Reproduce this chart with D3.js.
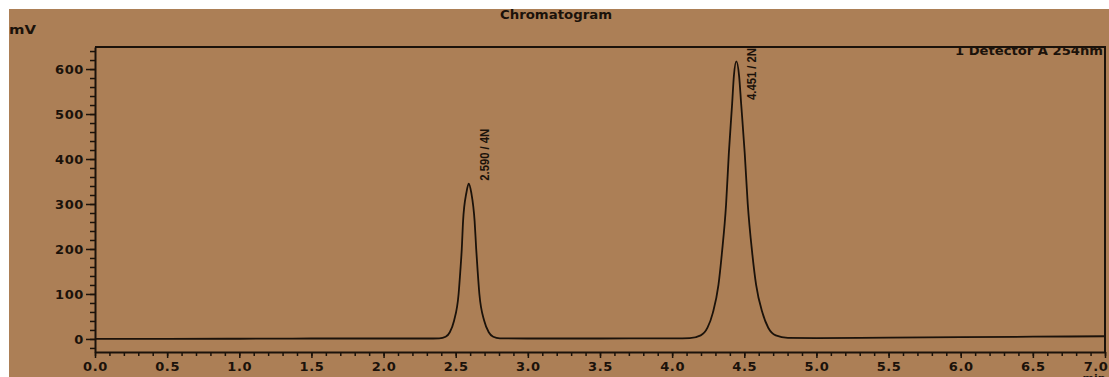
<!DOCTYPE html>
<html>
<head>
<meta charset="utf-8">
<script src="https://cdn.jsdelivr.net/npm/d3@7"></script>
<style>
  body { margin: 0; background: #fff; }
  svg { display: block; }
  .tick text { font-family: "DejaVu Sans", sans-serif; font-weight: bold; font-size: 13px; letter-spacing: 0.6px; fill: #1b120a; }
  .tick line, .domain { stroke: #1b120a; }
</style>
</head>
<body>
<svg width="1109" height="377"></svg>
<script>
// retention time (min) and detector signal (mV)
var times = [0, 0.5, 1.0, 1.5, 2.0, 2.3,
             2.386, 2.430, 2.459, 2.488, 2.520, 2.532, 2.542, 2.551, 2.574, 2.59, 2.608, 2.631, 2.642, 2.652, 2.664, 2.698, 2.729, 2.76, 2.806,
             3.0, 3.5, 4.0,
             4.122, 4.198, 4.245, 4.282, 4.321, 4.345, 4.374, 4.393, 4.416, 4.428, 4.445, 4.464, 4.478, 4.503, 4.524, 4.555, 4.582, 4.626, 4.666, 4.718, 4.802,
             5.0, 5.5, 6.0, 6.5, 7.0];
var signal = [0, 0, 0.5, 1, 1, 1,
              1.5, 5, 15, 40, 100, 151, 200, 262, 325, 345, 325, 262, 200, 151, 100, 40, 15, 5, 1.5,
              1, 1, 1.5,
              2, 8, 25, 58, 120, 191, 300, 413, 524, 585, 617, 585, 524, 413, 300, 191, 120, 58, 25, 8, 2.5,
              2, 3, 4, 5, 6];

// peaks: retention time, height, printed label
var peakTimes = [2.59, 4.445];
var peakHeights = [345, 617];
var peakLabels = ["2.590 / 4N", "4.451 / 2N"];

var xTicks = [0, 0.5, 1.0, 1.5, 2.0, 2.5, 3.0, 3.5, 4.0, 4.5, 5.0, 5.5, 6.0, 6.5, 7.0];
var xTickLabels = ["0.0", "0.5", "1.0", "1.5", "2.0", "2.5", "3.0", "3.5", "4.0", "4.5", "5.0", "5.5", "6.0", "6.5", "7.0"];
var yTicks = [0, 100, 200, 300, 400, 500, 600];
var yTickLabels = ["0", "100", "200", "300", "400", "500", "600"];

var ink = "#1b120a";
var svg = d3.select("svg");

// brown paper, leaving the white scan strip at top and left
svg.append("rect").attr("x", 9).attr("y", 9).attr("width", 1100).attr("height", 368).attr("fill", "#ac7f56");

var x = d3.scaleLinear().domain([0, 7.0]).range([95, 1105]);
var y = d3.scaleLinear().domain([-29, 649]).range([352, 47]);

// frame top and right
svg.append("path")
   .attr("d", "M" + x(0) + "," + y(649) + "H" + x(7) + "V" + y(-29))
   .attr("fill", "none").attr("stroke", ink).attr("stroke-width", 2);

// y axis: minor every 20, major every 100
svg.append("g")
   .attr("transform", "translate(" + x(0) + ",0)")
   .call(d3.axisLeft(y).tickValues(d3.range(-20, 649, 20)).tickSize(5).tickSizeOuter(0).tickFormat(""))
   .call(function(g) { g.selectAll("line").attr("stroke-width", 1.5); g.select(".domain").attr("stroke-width", 2); });
svg.append("g")
   .attr("transform", "translate(" + x(0) + ",0)")
   .call(d3.axisLeft(y).tickValues(yTicks).tickSize(9).tickPadding(2).tickSizeOuter(0)
          .tickFormat(function(d, i) { return yTickLabels[i]; }))
   .call(function(g) { g.select(".domain").remove(); g.selectAll("line").attr("stroke-width", 1.5); });

// x axis: minor every 0.1, major every 0.5
svg.append("g")
   .attr("transform", "translate(0," + y(-29) + ")")
   .call(d3.axisBottom(x).tickValues(d3.range(0, 7.01, 0.1)).tickSize(4).tickSizeOuter(0).tickFormat(""))
   .call(function(g) { g.selectAll("line").attr("stroke-width", 1.5); g.select(".domain").attr("stroke-width", 2); });
var xAxis = svg.append("g")
   .attr("transform", "translate(0," + y(-29) + ")")
   .call(d3.axisBottom(x).tickValues(xTicks).tickSize(6).tickPadding(4).tickSizeOuter(0)
          .tickFormat(function(d, i) { return xTickLabels[i]; }))
   .call(function(g) { g.select(".domain").remove(); g.selectAll("line").attr("stroke-width", 1.5); });
// last label sits against the edge of the scan
xAxis.selectAll(".tick text").filter(function(d) { return d === 7.0; })
     .attr("text-anchor", "end").attr("dx", 3);

// the trace
var pts = times.map(function(t, i) { return [t, signal[i]]; });
svg.append("path")
   .datum(pts)
   .attr("fill", "none")
   .attr("stroke", ink)
   .attr("stroke-width", 1.8)
   .attr("d", d3.line().x(function(d) { return x(d[0]); }).y(function(d) { return y(d[1]); }).curve(d3.curveMonotoneX));

// peak labels, written upward beside each apex
peakTimes.forEach(function(t, i) {
    var px = x(t) + 20, py = Math.max(y(peakHeights[i]) - 3, 100);
    svg.append("text")
       .attr("transform", "translate(" + px + "," + py + ") rotate(-90)")
       .attr("font-family", "Liberation Sans, sans-serif")
       .attr("font-weight", "bold")
       .attr("font-size", 12)
       .attr("textLength", 52)
       .attr("lengthAdjust", "spacingAndGlyphs")
       .attr("fill", ink)
       .text(peakLabels[i]);
});

// titles
svg.append("text").attr("x", 556).attr("y", 19).attr("text-anchor", "middle")
   .attr("font-family", "DejaVu Sans, sans-serif").attr("font-weight", "bold").attr("font-size", 12)
   .attr("textLength", 112).attr("lengthAdjust", "spacingAndGlyphs").attr("fill", ink)
   .text("Chromatogram");
svg.append("text").attr("x", 9).attr("y", 34)
   .attr("font-family", "DejaVu Sans, sans-serif").attr("font-weight", "bold").attr("font-size", 13)
   .attr("textLength", 27).attr("lengthAdjust", "spacingAndGlyphs").attr("fill", ink)
   .text("mV");
svg.append("text").attr("x", 1094).attr("y", 382).attr("text-anchor", "middle")
   .attr("font-family", "DejaVu Sans, sans-serif").attr("font-weight", "bold").attr("font-size", 11)
   .attr("fill", ink)
   .text("min");
svg.append("text").attr("x", 1103).attr("y", 55).attr("text-anchor", "end")
   .attr("font-family", "DejaVu Sans, sans-serif").attr("font-weight", "bold").attr("font-size", 12)
   .attr("textLength", 148).attr("lengthAdjust", "spacingAndGlyphs").attr("fill", ink)
   .text("1 Detector A 254nm");
</script>
</body>
</html>
